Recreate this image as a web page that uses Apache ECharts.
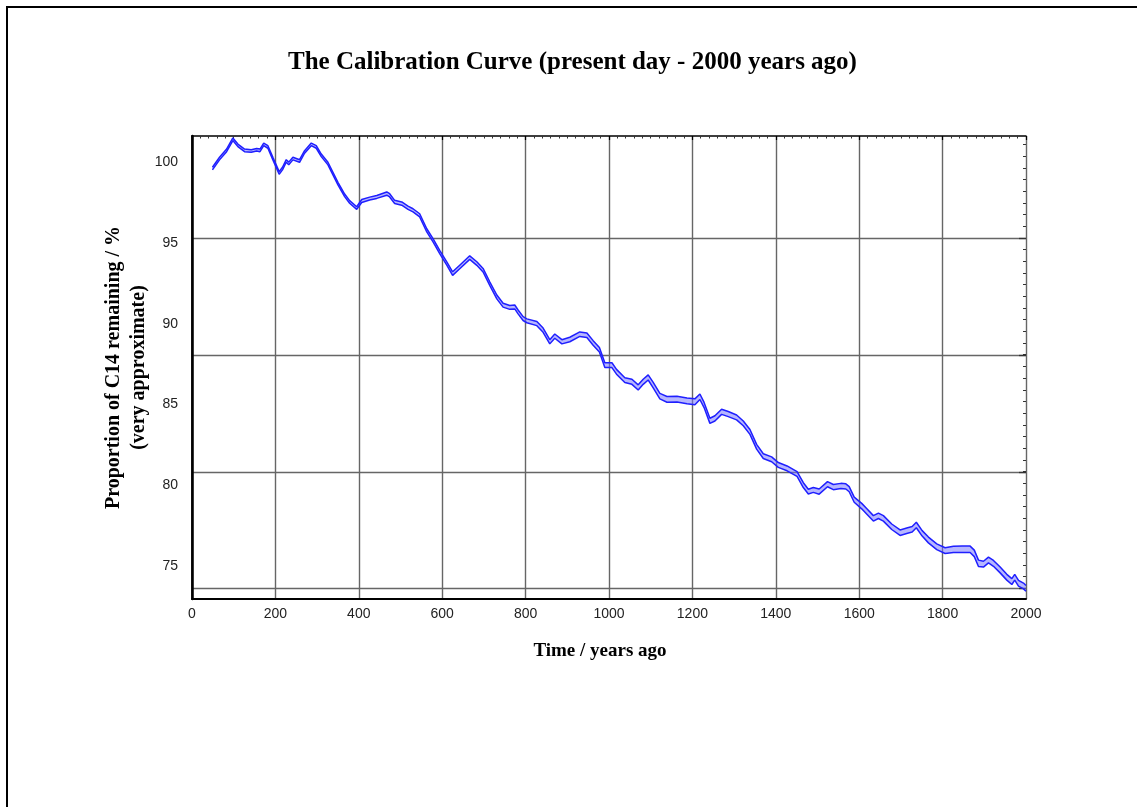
<!DOCTYPE html>
<html>
<head>
<meta charset="utf-8">
<script src="https://cdn.jsdelivr.net/npm/echarts@6/dist/echarts.min.js"></script>
<style>
html,body{margin:0;padding:0;background:#fff;overflow:hidden;}
#chart{position:absolute;left:0;top:0;width:1137px;height:807px;}
#frame{position:absolute;left:6px;top:6px;width:1200px;height:900px;border:2.5px solid #000;box-sizing:border-box;pointer-events:none;}
</style>
</head>
<body>
<div id="chart"></div>
<div id="frame"></div>
<script>
// ---- data ----
const titleText = 'The Calibration Curve (present day - 2000 years ago)';
const xName = 'Time / years ago';
const yName = 'Proportion of C14 remaining / %\n(very approximate)';

const years = [49,66,83,98,110,126,142,155,163,172,182,194,209,217,226,232,242,258,270,286,298,310,326,338,350,366,378,395,407,426,443,467,474,486,503,518,530,546,563,578,594,611,625,642,666,683,698,714,731,746,762,774,782,794,803,827,842,858,870,887,906,930,947,962,977,990,1007,1018,1038,1055,1070,1082,1094,1106,1122,1139,1163,1187,1206,1218,1228,1242,1254,1270,1286,1306,1322,1338,1354,1370,1390,1406,1427,1451,1466,1478,1490,1504,1524,1538,1556,1568,1576,1588,1606,1619,1634,1646,1658,1678,1698,1714,1727,1737,1751,1766,1786,1806,1826,1847,1866,1876,1886,1898,1910,1922,1938,1954,1966,1973,1982,1994,2000];
const c14Mid = [99.63,100.25,100.76,101.45,101.07,100.76,100.72,100.8,100.76,101.13,100.97,100.25,99.36,99.63,100.1,99.95,100.25,100.1,100.66,101.13,100.97,100.45,99.94,99.32,98.7,97.97,97.56,97.18,97.62,97.77,97.87,98.08,97.97,97.56,97.46,97.2,97.04,96.73,95.8,95.19,94.46,93.74,93.12,93.53,94.11,93.74,93.33,92.5,91.67,91.16,91.02,91.05,90.74,90.33,90.19,90.02,89.61,88.89,89.24,88.89,89.03,89.36,89.3,88.82,88.4,87.44,87.44,87.03,86.51,86.41,86.06,86.41,86.68,86.2,85.52,85.32,85.33,85.23,85.17,85.48,84.97,83.99,84.14,84.55,84.41,84.2,83.83,83.3,82.38,81.8,81.6,81.25,81.04,80.69,80.0,79.6,79.7,79.6,80.06,79.88,79.95,79.92,79.75,79.1,78.7,78.35,77.94,78.1,77.94,77.42,77.05,77.17,77.26,77.53,77.01,76.6,76.18,75.94,76.02,76.02,76.02,75.77,75.15,75.1,75.36,75.15,74.74,74.29,74.02,74.29,73.92,73.75,73.6];
const c14Err = [0.08,0.08,0.08,0.08,0.08,0.08,0.08,0.08,0.08,0.08,0.08,0.08,0.08,0.08,0.08,0.08,0.08,0.08,0.08,0.08,0.08,0.08,0.08,0.08,0.08,0.08,0.08,0.08,0.09,0.09,0.09,0.1,0.1,0.1,0.1,0.1,0.1,0.1,0.1,0.1,0.1,0.1,0.11,0.11,0.11,0.11,0.11,0.11,0.12,0.12,0.12,0.12,0.12,0.12,0.12,0.13,0.13,0.13,0.13,0.13,0.14,0.14,0.14,0.14,0.14,0.15,0.15,0.15,0.15,0.16,0.16,0.16,0.16,0.17,0.17,0.18,0.18,0.18,0.18,0.17,0.16,0.16,0.16,0.16,0.16,0.15,0.15,0.15,0.15,0.15,0.15,0.15,0.15,0.15,0.15,0.15,0.15,0.16,0.16,0.16,0.16,0.16,0.16,0.16,0.17,0.17,0.17,0.17,0.17,0.17,0.17,0.17,0.17,0.17,0.17,0.18,0.18,0.18,0.19,0.2,0.2,0.2,0.2,0.18,0.18,0.18,0.18,0.18,0.18,0.18,0.18,0.18,0.18];

const xTicks = [0,200,400,600,800,1000,1200,1400,1600,1800,2000];
const yLabelValues = [75,80,85,90,95,100];
const yGridValues = [73.6,80.83,88.07,95.33];
const yMin = 72.94, yMax = 101.65;

// ---- build ----
const upperData = years.map((x,i)=>[x, +(c14Mid[i]+c14Err[i]).toFixed(3)]);
const lowerData = years.map((x,i)=>[x, +(c14Mid[i]-c14Err[i]).toFixed(3)]);
const gridStep = (yGridValues[yGridValues.length-1]-yGridValues[0])/(yGridValues.length-1);
const yMinorValues = [];
for (let v = yGridValues[0]; v <= yMax + 1e-6; v += gridStep/10) yMinorValues.push(+v.toFixed(3));

const serif = 'Liberation Serif';
const sans = 'Liberation Sans';
const lineBlue = '#1f1fff';
const gridGray = '#666666';

const chart = echarts.init(document.getElementById('chart'), null, {renderer:'canvas'});
chart.setOption({
  animation:false,
  backgroundColor:'#fff',
  title:{
    text:titleText, left:288, top:50, padding:0,
    textStyle:{fontFamily:serif,fontWeight:'bold',fontSize:25,color:'#000'}
  },
  grid:{left:192,right:111,top:136,bottom:208,containLabel:false},
  xAxis:[
    {type:'value',position:'bottom',min:0,max:2000,interval:200,
     axisLine:{show:true,lineStyle:{color:'#000',width:2}},
     axisTick:{show:false},
     axisLabel:{show:true,fontFamily:sans,fontSize:14,color:'#222',margin:8,
       customValues:xTicks,formatter:v=>String(v)},
     splitLine:{show:true,lineStyle:{color:gridGray,width:1.4}},
     name:xName,nameLocation:'middle',nameGap:43,
     nameTextStyle:{fontFamily:serif,fontWeight:'bold',fontSize:19,color:'#000',padding:[0,18,0,0]}},
    {type:'value',position:'top',min:0,max:2000,interval:200,
     axisLine:{show:true,lineStyle:{color:'#000',width:1.5}},
     axisTick:{show:true,inside:true,length:4,lineStyle:{color:'#000',width:1.2}},
     minorTick:{show:true,splitNumber:10,length:2.5,lineStyle:{color:'#333',width:1}},
     axisLabel:{show:false},splitLine:{show:false}}
  ],
  yAxis:[
    {type:'value',position:'left',min:yMin,max:yMax,
     axisLine:{show:true,lineStyle:{color:'#000',width:2.5}},
     axisTick:{show:false,customValues:yLabelValues},
     axisLabel:{show:true,customValues:yLabelValues,fontFamily:sans,fontSize:14,color:'#222',margin:14},
     splitLine:{show:false},
     name:yName,nameLocation:'middle',nameGap:41,nameRotate:90,nameMoveOverlap:false,
     nameTextStyle:{fontFamily:serif,fontWeight:'bold',fontSize:20,color:'#000',lineHeight:25,align:'center'}},
    {type:'value',position:'right',min:yMin,max:yMax,
     axisLine:{show:true,lineStyle:{color:'#000',width:1.5}},
     axisTick:{show:false,customValues:yGridValues},
     axisLabel:{show:false},
     splitLine:{show:true,lineStyle:{color:gridGray,width:1.4}}},
    {type:'value',position:'right',min:yMin,max:yMax,
     axisLine:{show:false},
     axisTick:{show:true,inside:true,length:3,customValues:yMinorValues,lineStyle:{color:'#333',width:1}},
     axisLabel:{show:false},splitLine:{show:false}},
    {type:'value',position:'right',min:yMin,max:yMax,
     axisLine:{show:false},
     axisTick:{show:true,inside:true,length:7,customValues:yGridValues,lineStyle:{color:'#333',width:1.3}},
     axisLabel:{show:false},splitLine:{show:false}}
  ],
  series:[
    {type:'custom',name:'band',data:[[years[0],c14Mid[0]]],z:4,silent:true,
     renderItem:function(params, api){
       const pts = [];
       for (let i=0;i<upperData.length;i++) pts.push(api.coord(upperData[i]));
       for (let i=lowerData.length-1;i>=0;i--) pts.push(api.coord(lowerData[i]));
       return {type:'polygon',shape:{points:pts},style:{fill:'rgba(110,110,255,0.5)',stroke:null}};
     }},
    {type:'line',name:'upper',data:upperData,symbol:'none',
     lineStyle:{color:lineBlue,width:1.5},z:5},
    {type:'line',name:'lower',data:lowerData,symbol:'none',
     lineStyle:{color:lineBlue,width:1.5},z:5}
  ]
});
</script>
</body>
</html>
